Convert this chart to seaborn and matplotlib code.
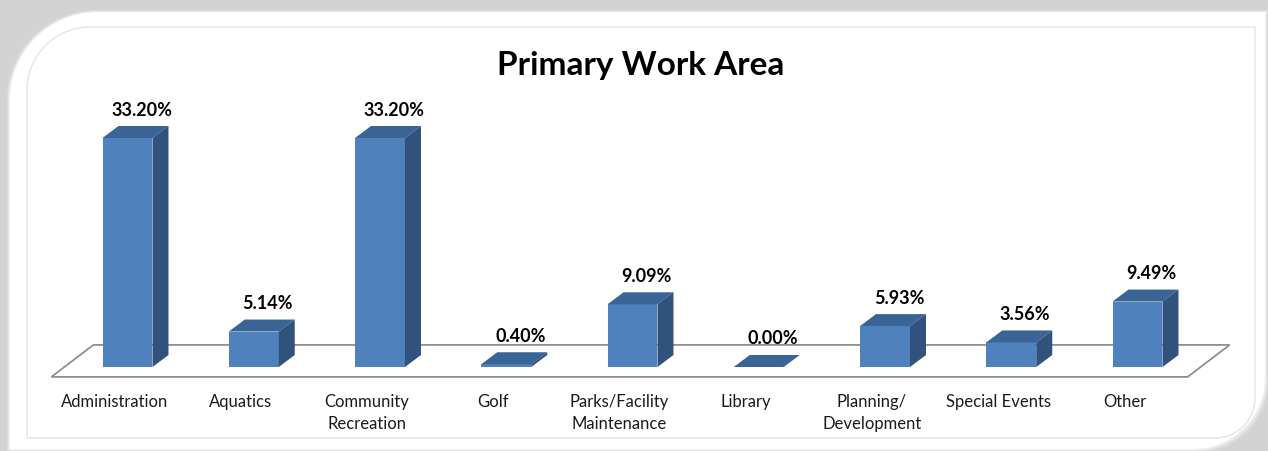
import numpy as np
import pandas as pd
import matplotlib
matplotlib.use("Agg")
import matplotlib.pyplot as plt
from matplotlib.patches import Polygon
from matplotlib.transforms import ScaledTranslation
import seaborn as sns

# ---------------- data ----------------
categories = ["Administration", "Aquatics", "Community\nRecreation", "Golf",
              "Parks/Facility\nMaintenance", "Library", "Planning/\nDevelopment",
              "Special Events", "Other"]
values = [33.20, 5.14, 33.20, 0.40, 9.09, 0.00, 5.93, 3.56, 9.49]
value_labels = [f"{v:.2f}%" for v in values]
title = "Primary Work Area"

# ---------------- style ----------------
sns.set_theme(style="white")
plt.rcParams["font.family"] = ["Lato", "DejaVu Sans"]

W, H = 1268, 451
fig = plt.figure(figsize=(W / 100, H / 100), dpi=100)
fig.patch.set_facecolor("#d3d3d3")

# background card (decoration) in pixel coordinates, y down
bg = fig.add_axes([0, 0, 1, 1], zorder=0)
bg.set_xlim(0, W)
bg.set_ylim(H, 0)
bg.axis("off")


def rounded_rect(l, t, r, b, rtl, rbr, n=30):
    pts = []
    cx, cy = l + rtl, t + rtl
    for a in np.linspace(np.pi, 1.5 * np.pi, n):
        pts.append((cx + rtl * np.cos(a), cy + rtl * np.sin(a)))
    pts.append((r, t))
    cx, cy = r - rbr, b - rbr
    for a in np.linspace(0, 0.5 * np.pi, n):
        pts.append((cx + rbr * np.cos(a), cy + rbr * np.sin(a)))
    pts.append((l, b))
    return np.array(pts)


# light band just inside the gray margin (soft gradient look)
for k, c in enumerate(["#dcdcdc", "#e6e6e6", "#f0f0f0"]):
    sh = rounded_rect(7 + k, 10 + k, 1268 - k, 452 - k, 90 - k, 70 + k)
    bg.add_patch(Polygon(sh, closed=True, facecolor=c, edgecolor="none", zorder=0))
card = rounded_rect(10, 12, 1265, 449, 88, 72)
bg.add_patch(Polygon(card, closed=True, facecolor="white", edgecolor="none", zorder=1))
inner = rounded_rect(27, 27, 1255, 438, 63, 40)
bg.add_patch(Polygon(inner, closed=True, facecolor="none", edgecolor="#e4e4e4",
                     linewidth=1.0, zorder=2))

bg.text(641, 66, title, ha="center", va="center", fontsize=24, fontweight="bold",
        color="black", zorder=3)

# ---------------- main chart axes ----------------
px_unit = 126.25
x_left = 127.5 - 0.5 * px_unit
ax_w = 9 * px_unit
y_base = 367.0
px_per_pct = 229.0 / 33.2
ymax = 40.0
ax_h = ymax * px_per_pct
ax = fig.add_axes([x_left / W, (H - y_base) / H, ax_w / W, ax_h / H], zorder=5)
ax.patch.set_alpha(0)

df = pd.DataFrame({"category": categories, "value": values})
sns.barplot(data=df, x="category", y="value", order=categories, color="#4F81BD",
            saturation=1, width=0.396, ax=ax, zorder=4, clip_on=False,
            edgecolor="none", linewidth=0)
ax.set_xlim(-0.5, len(categories) - 0.5)
ax.set_ylim(0, ymax)
for s in ax.spines.values():
    s.set_visible(False)
ax.set_xlabel("")
ax.set_ylabel("")
ax.set_yticks([])
ax.tick_params(axis="x", length=0, pad=19.5, labelsize=12, labelcolor="#1a1a1a")

fig.canvas.draw()
tD = ax.transData
tInv = tD.inverted()

depth_full = np.array([42.0, 32.0])
f_front = 0.31
bar_depth = np.array([16.0, 12.0])


def shift(pts, off):
    disp = tD.transform(np.asarray(pts, float)) + off
    return tInv.transform(disp)


# floor
x0, x1 = -0.5, len(categories) - 0.5
fl = np.array([[x0, 0], [x1, 0]])
front = shift(fl, -f_front * depth_full)
back = shift(fl, (1 - f_front) * depth_full)
floor = np.array([front[0], front[1], back[1], back[0]])
ax.add_patch(Polygon(floor, closed=True, facecolor="white", edgecolor="#8f8f8f",
                     linewidth=1.3, zorder=1, clip_on=False))

top_col = "#3B6496"
side_col = "#30527C"
for p, lab in zip(ax.patches[:len(values)], value_labels):
    x = p.get_x()
    w = p.get_width()
    h = p.get_height()
    fl_pts = np.array([[x, h], [x + w, h]])
    tb = shift(fl_pts, bar_depth)
    top = np.array([fl_pts[0], fl_pts[1], tb[1], tb[0]])
    ax.add_patch(Polygon(top, closed=True, facecolor=top_col, edgecolor="none",
                         zorder=4, clip_on=False))
    br = np.array([[x + w, 0], [x + w, h]])
    bb = shift(br, bar_depth)
    side = np.array([br[0], br[1], bb[1], bb[0]])
    ax.add_patch(Polygon(side, closed=True, facecolor=side_col, edgecolor="none",
                         zorder=4, clip_on=False))
    lp = shift([[x + w / 2, h]], np.array([14.0, 12.0 + 16.0]))[0]
    ax.text(lp[0], lp[1], lab, ha="center", va="center", fontsize=13,
            fontweight="bold", color="black", zorder=6, clip_on=False)

off = ScaledTranslation(-f_front * depth_full[0] / 100, 0, fig.dpi_scale_trans)
for t in ax.get_xticklabels():
    t.set_transform(t.get_transform() + off)
    t.set_multialignment("center")
    t.set_linespacing(1.45)

fig.savefig("out.png", dpi=100, facecolor=fig.get_facecolor())
